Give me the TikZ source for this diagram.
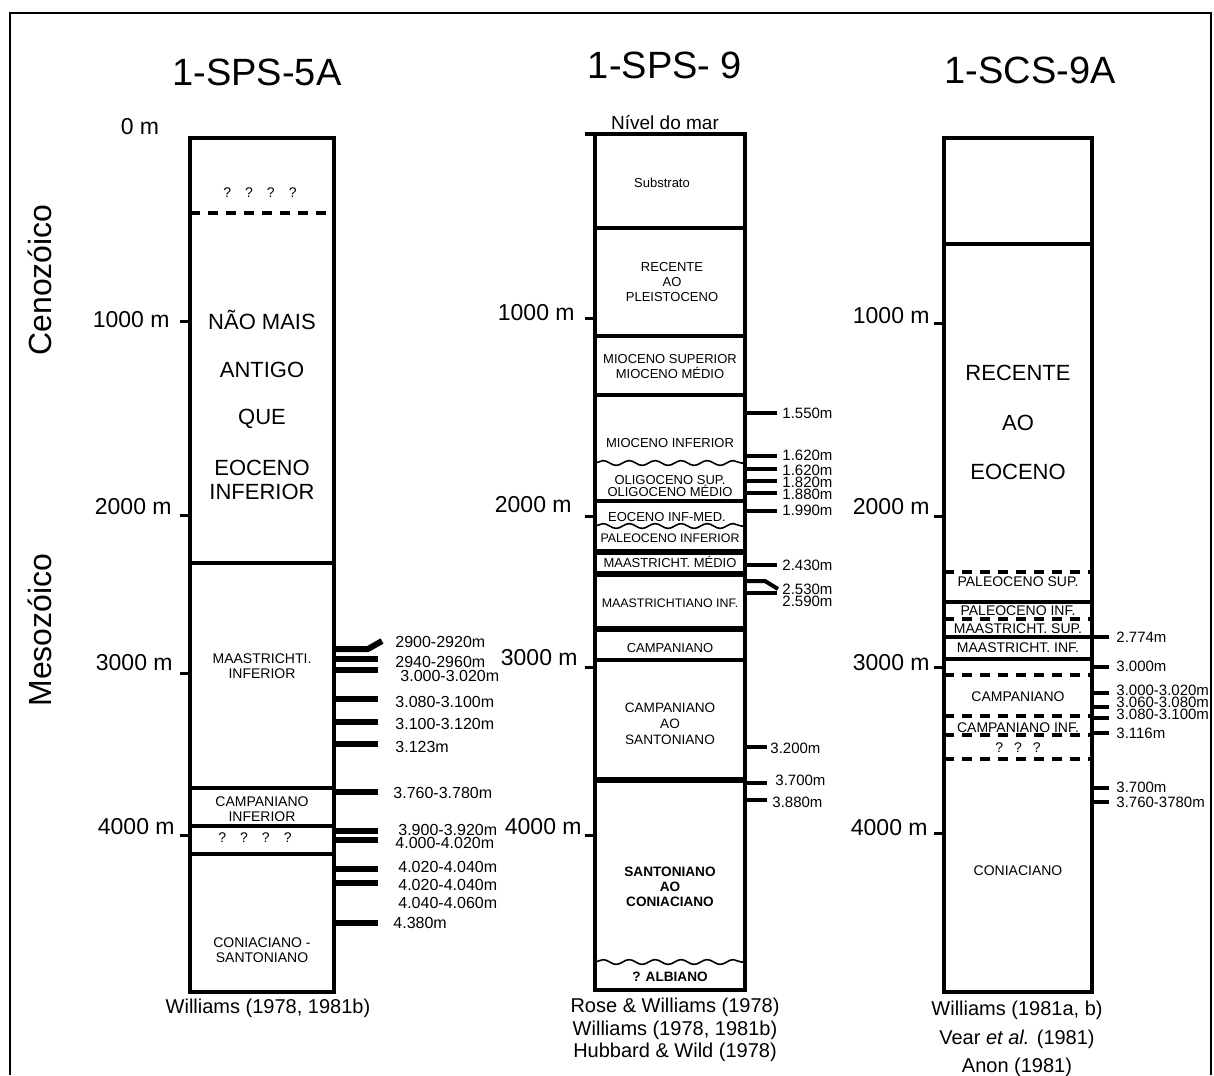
\documentclass[tikz,border=0pt]{standalone}
\usepackage{fontspec}
\setmainfont{Liberation Sans}
\usetikzlibrary{decorations.pathmorphing}

\begin{document}
\begin{tikzpicture}[
      x=0.5pt, y=-0.5pt,
      title/.style={font=\fontsize{19}{22}\selectfont, inner sep=0pt},
      depth/.style={font=\fontsize{11.5}{13}\selectfont, anchor=east, inner sep=0pt},
      era/.style={font=\fontsize{16}{18}\selectfont, rotate=90, inner sep=0pt},
      unit/.style={font=\fontsize{7}{7.5}\selectfont, align=center, inner sep=0pt},
      smallunit/.style={font=\fontsize{6.5}{7.5}\selectfont, align=center, inner sep=0pt},
      bigunit/.style={font=\fontsize{11}{13}\selectfont, inner sep=0pt},
      sample/.style={font=\fontsize{8}{8}\selectfont, anchor=west, inner sep=0pt},
      ref/.style={font=\fontsize{10}{12}\selectfont, inner sep=0pt},
      well/.style={line width=2pt},
      heavy/.style={line width=2.6pt},
      hiatus/.style={line width=2pt, dash pattern=on 5pt off 4pt},
      uncon/.style={line width=0.8pt, decorate,
                    decoration={snake, amplitude=1.2pt, segment length=13pt}},
      tickmark/.style={line width=1.5pt},
      bar/.style={line width=3pt, line join=bevel},
      thinbar/.style={line width=2pt}
    ]
    \useasboundingbox (0,0) rectangle (1214,1075);

    % Frame (open at the bottom)
    \draw[line width=1pt] (10,1075) -- (10,13) -- (1211,13) -- (1211,1075);

    % Eras
    \node[era] (ceno) at (40,280) {Cenozóico};
    \node[era] (meso) at (40,630) {Mesozóico};

    % ---------------- Well 1-SPS-5A ----------------
    \node[title] (t5a) at (257,72) {1-SPS-5A};
    \node[depth, anchor=center] (z5a) at (140,127) {0 m};
    \draw[well] (190,138) rectangle (334,992);
    \draw[hiatus] (190,213) -- (334,213);
    \foreach \y in {563,788,826,854}
      \draw[well] (190,\y) -- (334,\y);
    % depth ticks
    \foreach \y/\ly/\lx/\t in {321/320/170/1000 m,515/507/172/2000 m,
                               673/663/173/3000 m,835/827/175/4000 m}{
      \draw[tickmark] (180,\y) -- (190,\y);
      \node[depth] at (\lx,\ly) {\t};
    }
    % units
    \node[unit] (q5a) at (260,193) {?\quad ?\quad ?\quad ?};
    \node[bigunit] at (262,320) {NÃO MAIS};
    \node[bigunit] at (262,370) {ANTIGO};
    \node[bigunit] at (262,419) {QUE};
    \node[bigunit] at (262,468) {EOCENO};
    \node[bigunit] at (262,492) {INFERIOR};
    \node[unit] (m5a) at (262,666) {MAASTRICHTI.\\INFERIOR};
    \node[unit] (c5a) at (262,809) {CAMPANIANO\\INFERIOR};
    \node[unit] at (255,838) {?\quad ?\quad ?\quad ?};
    \node[unit] (s5a) at (262,950) {CONIACIANO -\\SANTONIANO};
    % samples
    \draw[bar] (334,649) -- (368,649) -- (382,641);
    \foreach \y in {659,670,699,722,744,792,831,840,869,883,923}
      \draw[bar] (334,\y) -- (378,\y);
    \foreach \x/\y/\t in {395/642/2900-2920m,395/662/2940-2960m,400/676/3.000-3.020m,
                          395/702/3.080-3.100m,395/724/3.100-3.120m,395/747/3.123m,
                          393/793/3.760-3.780m,398/830/3.900-3.920m,395/843/4.000-4.020m,
                          398/867/4.020-4.040m,398/885/4.020-4.040m,398/903/4.040-4.060m,
                          393/923/4.380m}
      \node[sample] at (\x,\y) {\t};
    \node[ref] (r5a) at (268,1008) {Williams (1978, 1981b)};

    % ---------------- Well 1-SPS-9 ----------------
    \node[title] (t9) at (665,65) {1-SPS- 9};
    \node[font=\fontsize{9.5}{11}\selectfont, inner sep=0pt] (sea) at (665,123) {Nível do mar};
    \draw[well] (595,134) rectangle (745,990);
    \draw[well] (585,134) -- (595,134);
    \foreach \y in {228,336,395,501,660}
      \draw[well] (595,\y) -- (745,\y);
    \foreach \y in {552,574,629,780}
      \draw[heavy] (595,\y) -- (745,\y);
    \foreach \y in {463,526,962}
      \draw[uncon] (595,\y) -- (745,\y);
    % depth ticks
    \foreach \y/\ly/\lx/\t in {318/313/575/1000 m,516/505/572/2000 m,
                               667/658/578/3000 m,835/827/582/4000 m}{
      \draw[tickmark] (585,\y) -- (595,\y);
      \node[depth] at (\lx,\ly) {\t};
    }
    % units
    \node[smallunit] (sub) at (662,183) {Substrato};
    \node[smallunit] at (672,282) {RECENTE\\AO\\PLEISTOCENO};
    \node[smallunit] at (670,367) {MIOCENO SUPERIOR\\MIOCENO MÉDIO};
    \node[smallunit] at (670,443) {MIOCENO INFERIOR};
    \node[smallunit, font=\fontsize{6.5}{6}\selectfont] at (670,486) {OLIGOCENO SUP.\\OLIGOCENO MÉDIO};
    \node[smallunit] at (667,517) {EOCENO INF-MED.};
    \node[smallunit, font=\fontsize{6.2}{7}\selectfont] at (670,538) {PALEOCENO INFERIOR};
    \node[smallunit] at (670,562) {MAASTRICHT. MÉDIO};
    \node[smallunit, font=\fontsize{6.2}{7}\selectfont] at (670,603) {MAASTRICHTIANO INF.};
    \node[smallunit] at (670,648) {CAMPANIANO};
    \node[unit, font=\fontsize{6.8}{8}\selectfont] at (670,724) {CAMPANIANO\\AO\\SANTONIANO};
    \node[unit, font=\fontsize{6.8}{7.5}\selectfont\bfseries] at (670,887) {SANTONIANO\\AO\\CONIACIANO};
    \node[unit, font=\fontsize{6.8}{7.5}\selectfont\bfseries] at (670,977) {? ALBIANO};
    % samples
    \draw[thinbar] (745,581) -- (765,581) -- (778,589);
    \foreach \y in {413,456,469,481,493,511,565,593}
      \draw[thinbar] (745,\y) -- (777,\y);
    \foreach \y in {747,783,800}
      \draw[thinbar] (745,\y) -- (767,\y);
    \foreach \x/\y/\t in {782/413/1.550m,782/455/1.620m,782/470/1.620m,782/482/1.820m,
                          782/494/1.880m,782/510/1.990m,782/565/2.430m,782/589/2.530m,
                          782/601/2.590m,770/748/3.200m,775/780/3.700m,772/802/3.880m}
      \node[sample, font=\fontsize{7.5}{7.5}\selectfont] at (\x,\y) {\t};
    \node[ref, align=center, font=\fontsize{10}{11.3}\selectfont] (r9) at (675,1030)
      {Rose \& Williams (1978)\\Williams (1978, 1981b)\\Hubbard \& Wild (1978)};

    % ---------------- Well 1-SCS-9A ----------------
    \node[title] (t9a) at (1030,70) {1-SCS-9A};
    \draw[well] (944,138) rectangle (1092,992);
    \foreach \y in {244,602,637,659}
      \draw[well] (944,\y) -- (1092,\y);
    \foreach \y in {572,619,675,716,735,759}
      \draw[hiatus] (944,\y) -- (1092,\y);
    % depth ticks
    \foreach \y/\ly/\lx/\t in {323/316/930/1000 m,516/507/930/2000 m,
                               667/663/930/3000 m,833/828/928/4000 m}{
      \draw[tickmark] (934,\y) -- (944,\y);
      \node[depth] at (\lx,\ly) {\t};
    }
    % units
    \node[bigunit] at (1018,373) {RECENTE};
    \node[bigunit] at (1018,423) {AO};
    \node[bigunit] at (1018,472) {EOCENO};
    \node[unit] at (1018,582) {PALEOCENO SUP.};
    \node[unit] at (1018,611) {PALEOCENO INF.};
    \node[unit] at (1018,629) {MAASTRICHT. SUP.};
    \node[unit] at (1018,648) {MAASTRICHT. INF.};
    \node[unit] at (1018,697) {CAMPANIANO};
    \node[unit] at (1018,728) {CAMPANIANO INF.};
    \node[unit] at (1018,748) {?\enspace\ ?\enspace\ ?};
    \node[unit] at (1018,871) {CONIACIANO};
    % samples
    \foreach \y in {637,667,693,707,718,733,788,802}
      \draw[thinbar] (1092,\y) -- (1109,\y);
    \foreach \y/\t in {637/2.774m,666/3.000m,690/3.000-3.020m,702/3.060-3.080m,
                       714/3.080-3.100m,733/3.116m,787/3.700m,802/3.760-3780m}
      \node[sample, font=\fontsize{7.5}{7.5}\selectfont] at (1116,\y) {\t};
    \node[ref] (r9a) at (1017,1010) {Williams (1981a, b)};
    \node[ref] at (1017,1039) {Vear \textit{et al.} (1981)};
    \node[ref] at (1017,1067) {Anon (1981)};

  \end{tikzpicture}
\end{document}
